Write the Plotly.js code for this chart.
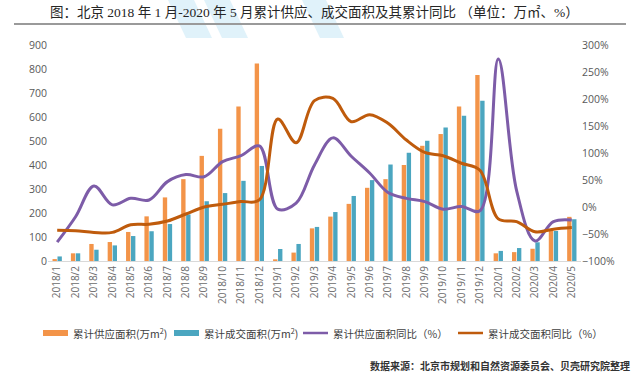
<!DOCTYPE html>
<html>
<head>
<meta charset="utf-8">
<script src="https://cdn.plot.ly/plotly-3.0.1.min.js"></script>
<style>
html,body{margin:0;padding:0;background:#fff;}
#wrap{position:relative;width:640px;height:381px;}
#chart{width:640px;height:381px;}
#rule{position:absolute;left:14px;top:23px;width:612px;height:0;border-top:2px solid #9A9A9A;pointer-events:none;}
</style>
</head>
<body>
<div id="wrap"><div id="chart"></div><div id="rule"></div></div>
<script>
const months = ["2018/1","2018/2","2018/3","2018/4","2018/5","2018/6","2018/7","2018/8","2018/9","2018/10","2018/11","2018/12",
  "2019/1","2019/2","2019/3","2019/4","2019/5","2019/6","2019/7","2019/8","2019/9","2019/10","2019/11","2019/12",
  "2020/1","2020/2","2020/3","2020/4","2020/5"];
const supplyArea = [8,32,71,79,121,186,265,341,438,551,644,823,7,35,136,185,238,305,341,400,480,529,644,775,32,37,51,132,184];
const dealArea = [19,32,47,65,104,124,154,194,249,283,334,396,50,71,142,204,271,337,402,451,501,556,605,668,42,54,78,125,174];
const supplyYoY = [-65,-18,39,4,16,13,47,60,56,84,95,113,-4,7,78,128,94,63,27,16,10,-4,1,-7,274,30,-63,-27,-24];
const dealYoY = [-43,-44,-47,-47,-33,-32,-26,-13,0,5,10,13,163,119,197,201,158,171,155,124,101,95,81,68,-22,-27,-46,-41,-38];

const seriesNames = ["累计供应面积(万m<sup>2</sup>)","累计成交面积(万m<sup>2</sup>)","累计供应面积同比（%）","累计成交面积同比（%）"];
const titleText = "图：北京 2018 年 1 月-2020 年 5 月累计供应、成交面积及其累计同比 （单位：万㎡、%）";
const sourceText = "数据来源：北京市规划和自然资源委员会、贝壳研究院整理";

const cOrange = "#F39449", cTeal = "#4BA6C0", cPurple = "#7D5CA8", cBrown = "#BF5B0C";
const cjk = "Noto Sans CJK SC, sans-serif";

// pixel -> paper helpers (plot area: x 48..581, y 45..261)
const L = 48, R = 581, T = 45, B = 261;
const px = v => (v - L) / (R - L);
const py = v => (B - v) / (B - T);

const traces = [
  {type:"bar", x:months, y:supplyArea, name:seriesNames[0], marker:{color:cOrange}, yaxis:"y"},
  {type:"bar", x:months, y:dealArea, name:seriesNames[1], marker:{color:cTeal}, yaxis:"y"},
  {type:"scatter", mode:"lines", x:months, y:supplyYoY, name:seriesNames[2], yaxis:"y2",
   line:{color:cPurple, width:3, shape:"spline", smoothing:1}},
  {type:"scatter", mode:"lines", x:months, y:dealYoY, name:seriesNames[3], yaxis:"y2",
   line:{color:cBrown, width:3, shape:"spline", smoothing:1}}
];

// legend drawn manually
const legendY = 333;
const legendItems = [
  {kind:"rect", color:cOrange, x0:43, x1:68, tx:71, text:seriesNames[0]},
  {kind:"rect", color:cTeal, x0:174, x1:199, tx:202, text:seriesNames[1]},
  {kind:"line", color:cPurple, x0:303, x1:328, tx:331, text:seriesNames[2]},
  {kind:"line", color:cBrown, x0:458, x1:483, tx:486, text:seriesNames[3]}
];

const shapes = [
  // watermark stripes
  {type:"path", xref:"paper", yref:"paper", layer:"below", line:{width:0}, fillcolor:"#E0F2FA",
   path:`M ${px(168)} ${py(0)} L ${px(194)} ${py(0)} L ${px(212)} ${py(38)} L ${px(186)} ${py(38)} Z`},
  {type:"path", xref:"paper", yref:"paper", layer:"below", line:{width:0}, fillcolor:"#E0F2FA",
   path:`M ${px(204)} ${py(0)} L ${px(230)} ${py(0)} L ${px(248)} ${py(38)} L ${px(222)} ${py(38)} Z`},
  {type:"path", xref:"paper", yref:"paper", layer:"below", line:{width:0}, fillcolor:"#E0F2FA",
   path:`M ${px(302)} ${py(0)} L ${px(326)} ${py(0)} L ${px(344)} ${py(38)} L ${px(320)} ${py(38)} Z`}
];
const annotations = [
  {xref:"paper", yref:"paper", x:px(314), y:py(12), xanchor:"center", yanchor:"middle", showarrow:false,
   text:titleText, font:{family:"Liberation Serif, Noto Sans CJK SC, serif", size:13.5, color:"#262626"}},
  {xref:"paper", yref:"paper", x:px(632), y:py(365), xanchor:"right", yanchor:"middle", showarrow:false,
   text:"<b>" + sourceText + "</b>", font:{family:cjk, size:10, color:"#333333"}}
];
legendItems.forEach(it => {
  if (it.kind === "rect") {
    shapes.push({type:"rect", xref:"paper", yref:"paper", x0:px(it.x0), x1:px(it.x1),
      y0:py(legendY + 3), y1:py(legendY - 3), fillcolor:it.color, line:{width:0}});
  } else {
    shapes.push({type:"line", xref:"paper", yref:"paper", x0:px(it.x0), x1:px(it.x1),
      y0:py(legendY), y1:py(legendY), line:{color:it.color, width:2.5}});
  }
  annotations.push({xref:"paper", yref:"paper", x:px(it.tx), y:py(legendY), xanchor:"left", yanchor:"middle",
    showarrow:false, text:it.text, font:{family:cjk, size:10.5, color:"#404040"}});
});

const layout = {
  width:640, height:381,
  margin:{l:L, r:640 - R, t:T, b:381 - B},
  paper_bgcolor:"#fff", plot_bgcolor:"rgba(0,0,0,0)",
  font:{family:"Open Sans, Noto Sans CJK SC, sans-serif", color:"#595959", size:10},
  barmode:"group", bargap:0.46, bargroupgap:0.12,
  showlegend:false,
  xaxis:{type:"category", tickangle:-90, showgrid:false, showline:true, linecolor:"#D9D9D9", linewidth:1,
    ticks:"", tickfont:{size:10, color:"#6b6b6b"}, zeroline:false},
  yaxis:{range:[0,900], dtick:100, showgrid:false, zeroline:false, showline:false, ticks:"",
    tickfont:{size:10.5, color:"#595959"}},
  yaxis2:{range:[-100,300], dtick:50, overlaying:"y", side:"right", ticksuffix:"%", showgrid:false,
    zeroline:false, showline:false, ticks:"", tickfont:{size:10.5, color:"#595959"}},
  shapes:shapes,
  annotations:annotations
};

Plotly.newPlot("chart", traces, layout, {displayModeBar:false, staticPlot:true});
</script>
</body>
</html>
